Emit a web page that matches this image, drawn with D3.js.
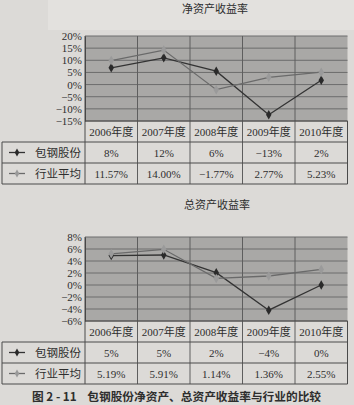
<!DOCTYPE html>
<html>
<head>
<meta charset="utf-8">
<script src="https://cdn.jsdelivr.net/npm/d3@7"></script>
<style>
  body { margin: 0; background: #dcdad7; }
  svg { display: block; }
  text { font-family: "Liberation Serif", "Noto Sans CJK SC", serif; fill: #2e2e2e; }
</style>
</head>
<body>
<div id="graph"></div>
<script>
let w = 354;
let h = 405;

// categories
let years = ["2006年度", "2007年度", "2008年度", "2009年度", "2010年度"];
let seriesNames = ["包钢股份", "行业平均"];

let roeBaogang = [6.9, 11.0, 5.5, -12.4, 1.8];
let roeIndustry = [9.9, 14.2, -2.1, 3.0, 5.1];
let roeBaogangLabels = ["8%", "12%", "6%", "−13%", "2%"];
let roeIndustryLabels = ["11.57%", "14.00%", "−1.77%", "2.77%", "5.23%"];
let roeTicks = [20, 15, 10, 5, 0, -5, -10, -15];

// 总资产收益率
let roaBaogang = [4.9, 5.0, 2.05, -4.2, 0.0];
let roaIndustry = [5.2, 5.95, 1.1, 1.5, 2.6];
let roaBaogangLabels = ["5%", "5%", "2%", "−4%", "0%"];
let roaIndustryLabels = ["5.19%", "5.91%", "1.14%", "1.36%", "2.55%"];
let roaTicks = [8, 6, 4, 2, 0, -2, -4, -6];

let lineColors = ["#333333", "#6a6a6a"];
let markerColors = ["#2a2a2a", "#9a9a9a"];

let viz = d3.select("#graph")
  .append("svg")
    .attr("width", w)
    .attr("height", h)
;

// slightly lighter scanned strip behind the top title
viz.append("rect").attr("x", 48).attr("y", 0).attr("width", w - 48).attr("height", 30).attr("fill", "#e3e1de");

let plotLeft = 85;
let plotRight = 347.5;
let tableLeft = 2;
let rowH = 21;

function pct(d){
  return (d < 0 ? "−" : "") + Math.abs(d) + "%";
}

function drawPanel(opts){
  let g = viz.append("g");

  g.append("text")
    .attr("x", opts.titleX)
    .attr("y", opts.titleY)
    .attr("text-anchor", "middle")
    .attr("dominant-baseline", "central")
    .style("font-size", "11px")
    .text(opts.title);

  let xScale = d3.scaleBand().domain(years).range([plotLeft, plotRight]);
  let yScale = d3.scaleLinear()
    .domain([d3.min(opts.ticks), d3.max(opts.ticks)])
    .range([opts.bottom, opts.top]);

  g.append("rect")
    .attr("x", plotLeft)
    .attr("y", opts.top)
    .attr("width", plotRight - plotLeft)
    .attr("height", opts.bottom - opts.top)
    .attr("fill", "#a9a8a6");

  // horizontal gridlines
  g.selectAll(".hgrid").data(opts.ticks).enter()
    .append("line")
      .attr("class", "hgrid")
      .attr("x1", plotLeft)
      .attr("x2", plotRight)
      .attr("y1", d => yScale(d))
      .attr("y2", d => yScale(d))
      .attr("stroke", "#6c6c6c")
      .attr("stroke-width", 1)
  ;

  // vertical gridlines at category boundaries
  g.selectAll(".vgrid").data(years.slice(1)).enter()
    .append("line")
      .attr("class", "vgrid")
      .attr("x1", d => xScale(d))
      .attr("x2", d => xScale(d))
      .attr("y1", opts.top)
      .attr("y2", opts.bottom + rowH * 3)
      .attr("stroke", "#5e5e5e")
      .attr("stroke-width", 1)
  ;

  let yAxis = d3.axisLeft(yScale).tickValues(opts.ticks).tickSize(0).tickPadding(3).tickFormat(pct);
  let yAxisGroup = g.append("g").attr("class", "yaxis")
    .attr("transform", "translate(" + plotLeft + ",0)")
    .call(yAxis);
  yAxisGroup.select(".domain").attr("stroke", "#444");
  yAxisGroup.selectAll("text")
    .style("font-size", "11px")
    .style("font-family", "'Liberation Serif', serif")
    .attr("fill", "#2e2e2e");

  // lines and markers
  let series = [opts.baogang, opts.industry];
  let line = d3.line()
    .x((d, i) => xScale(years[i]) + xScale.bandwidth() / 2)
    .y(d => yScale(d));

  series.forEach(function(vals, s){
    g.append("path")
      .datum(vals)
      .attr("d", line)
      .attr("fill", "none")
      .attr("stroke", lineColors[s])
      .attr("stroke-width", 1.3);
  });
  series.forEach(function(vals, s){
    g.selectAll(".marker" + s).data(vals).enter()
      .append("path")
        .attr("class", "marker" + s)
        .attr("d", d3.symbol(d3.symbolDiamond, 26))
        .attr("transform", (d, i) => "translate(" + (xScale(years[i]) + xScale.bandwidth() / 2) + "," + yScale(d) + ")")
        .attr("fill", markerColors[s]);
  });

  // data table
  let t0 = opts.bottom;
  let tableBottom = t0 + rowH * 3;
  let border = "#4a4a4a";

  g.append("line").attr("x1", plotLeft).attr("x2", plotLeft).attr("y1", opts.top).attr("y2", tableBottom).attr("stroke", border);
  g.append("line").attr("x1", plotRight).attr("x2", plotRight).attr("y1", t0).attr("y2", tableBottom).attr("stroke", border);
  g.append("line").attr("x1", tableLeft).attr("x2", tableLeft).attr("y1", t0 + rowH).attr("y2", tableBottom).attr("stroke", border);
  [1, 2, 3].forEach(function(r){
    g.append("line")
      .attr("x1", tableLeft).attr("x2", plotRight)
      .attr("y1", t0 + rowH * r).attr("y2", t0 + rowH * r)
      .attr("stroke", border);
  });
  g.append("line").attr("x1", plotLeft).attr("x2", plotRight).attr("y1", t0).attr("y2", t0).attr("stroke", border);

  g.selectAll(".yearlabel").data(years).enter()
    .append("text")
      .attr("x", d => xScale(d) + xScale.bandwidth() / 2)
      .attr("y", t0 + rowH / 2)
      .attr("text-anchor", "middle")
      .attr("dominant-baseline", "central")
      .style("font-size", "11px")
      .text(d => d);

  let labelRows = [opts.baogangLabels, opts.industryLabels];
  labelRows.forEach(function(labels, r){
    let cy = t0 + rowH * (r + 1) + rowH / 2;
    g.selectAll(".cell" + r).data(labels).enter()
      .append("text")
        .attr("x", (d, i) => xScale(years[i]) + xScale.bandwidth() / 2)
        .attr("y", cy)
        .attr("text-anchor", "middle")
        .attr("dominant-baseline", "central")
        .style("font-size", "11px")
        .text(d => d);

    g.append("line")
      .attr("x1", 9).attr("x2", 25)
      .attr("y1", cy).attr("y2", cy)
      .attr("stroke", lineColors[r]).attr("stroke-width", 1.3);
    g.append("path")
      .attr("d", d3.symbol(d3.symbolDiamond, 18))
      .attr("transform", "translate(17," + cy + ")")
      .attr("fill", markerColors[r]);
    g.append("text")
      .attr("x", 58)
      .attr("y", cy)
      .attr("text-anchor", "middle")
      .attr("dominant-baseline", "central")
      .style("font-size", "11.5px")
      .text(seriesNames[r]);
  });
}

drawPanel({
  title: "净资产收益率", titleX: 215, titleY: 9,
  top: 36, bottom: 121, ticks: roeTicks,
  baogang: roeBaogang, industry: roeIndustry,
  baogangLabels: roeBaogangLabels, industryLabels: roeIndustryLabels
});

drawPanel({
  title: "总资产收益率", titleX: 217, titleY: 205,
  top: 237, bottom: 321, ticks: roaTicks,
  baogang: roaBaogang, industry: roaIndustry,
  baogangLabels: roaBaogangLabels, industryLabels: roaIndustryLabels
});

viz.append("text")
  .attr("x", 32)
  .attr("y", 395)
  .attr("dominant-baseline", "central")
  .style("font-size", "11.7px")
  .style("font-weight", "bold")
  .style("font-family", "'Noto Sans CJK SC', sans-serif")
  .attr("fill", "#222")
  .attr("xml:space", "preserve")
  .text("图 2 - 11    包钢股份净资产、总资产收益率与行业的比较");
</script>
</body>
</html>
